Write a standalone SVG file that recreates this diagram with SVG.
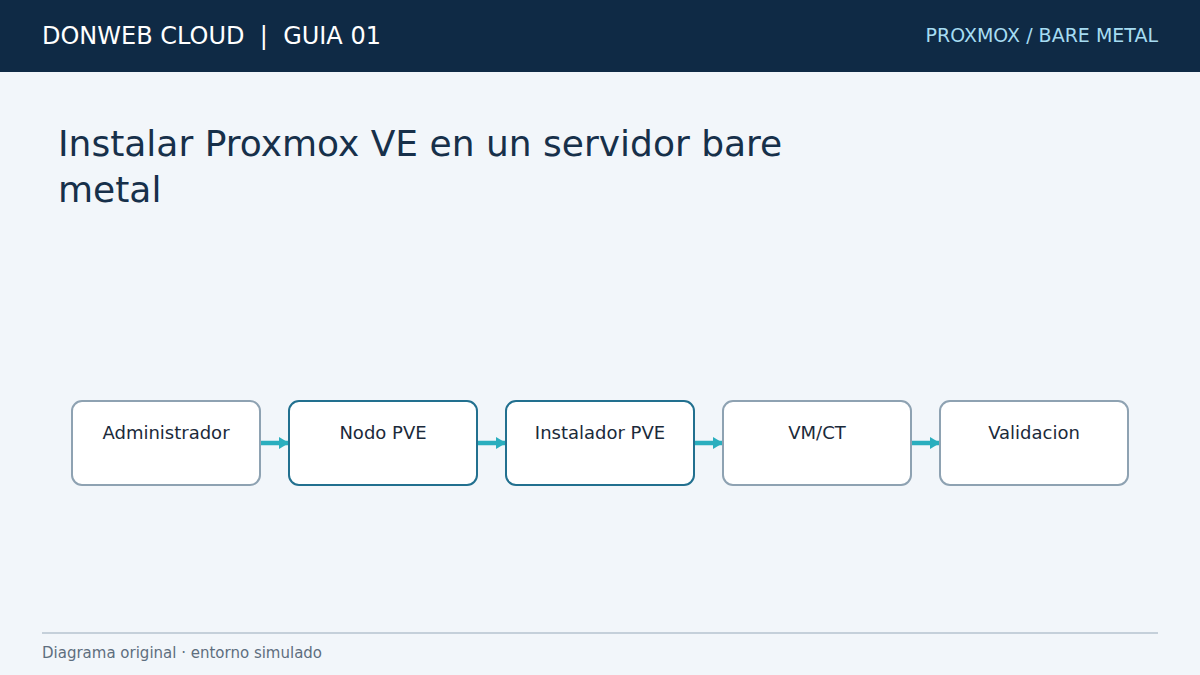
<svg xmlns="http://www.w3.org/2000/svg" width="1200" height="675" viewBox="0 0 1200 675">
<defs>
<marker id="ah" markerWidth="12" markerHeight="14" refX="9" refY="7" orient="auto" markerUnits="userSpaceOnUse">
<path d="M0,1 L10,7 L0,13 Z" fill="#2aaebe"/>
</marker>
</defs>
<style>
text{font-family:"DejaVu Sans","Noto Sans",sans-serif}
.box{fill:#ffffff;stroke:#8ea2b2;stroke-width:2}
.box.hl{stroke:#22708f}
.lbl{font-size:18px;fill:#1b2a3a;text-anchor:middle}
.conn{stroke:#2aaebe;stroke-width:4.5;fill:none}
</style>
<rect x="0" y="0" width="1200" height="675" fill="#f2f6fa"/>
<rect x="0" y="0" width="1200" height="72" fill="#0f2a45"/>
<text x="42" y="44" font-size="24" fill="#ffffff" xml:space="preserve" style="white-space:pre">DONWEB CLOUD  |  GUIA 01</text>
<text x="1158" y="42" font-size="19" fill="#a6dcf2" text-anchor="end">PROXMOX / BARE METAL</text>
<text x="58" y="156" font-size="36" fill="#17304a">Instalar Proxmox VE en un servidor bare</text>
<text x="58" y="202" font-size="36" fill="#17304a">metal</text>
<g id="connectors">
<line class="conn" x1="261" y1="443" x2="288" y2="443" marker-end="url(#ah)"/>
<line class="conn" x1="478" y1="443" x2="505" y2="443" marker-end="url(#ah)"/>
<line class="conn" x1="695" y1="443" x2="722" y2="443" marker-end="url(#ah)"/>
<line class="conn" x1="912" y1="443" x2="939" y2="443" marker-end="url(#ah)"/>
</g>
<g id="n1"><rect class="box" x="72" y="401" width="188" height="84" rx="10"/><text class="lbl" x="166" y="439">Administrador</text></g>
<g id="n2"><rect class="box hl" x="289" y="401" width="188" height="84" rx="10"/><text class="lbl" x="383" y="439">Nodo PVE</text></g>
<g id="n3"><rect class="box hl" x="506" y="401" width="188" height="84" rx="10"/><text class="lbl" x="600" y="439">Instalador PVE</text></g>
<g id="n4"><rect class="box" x="723" y="401" width="188" height="84" rx="10"/><text class="lbl" x="817" y="439">VM/CT</text></g>
<g id="n5"><rect class="box" x="940" y="401" width="188" height="84" rx="10"/><text class="lbl" x="1034" y="439">Validacion</text></g>
<line x1="42" y1="633" x2="1158" y2="633" stroke="#c5d0da" stroke-width="2"/>
<text x="42" y="658" font-size="15" fill="#5e6e7e">Diagrama original · entorno simulado</text>
</svg>
